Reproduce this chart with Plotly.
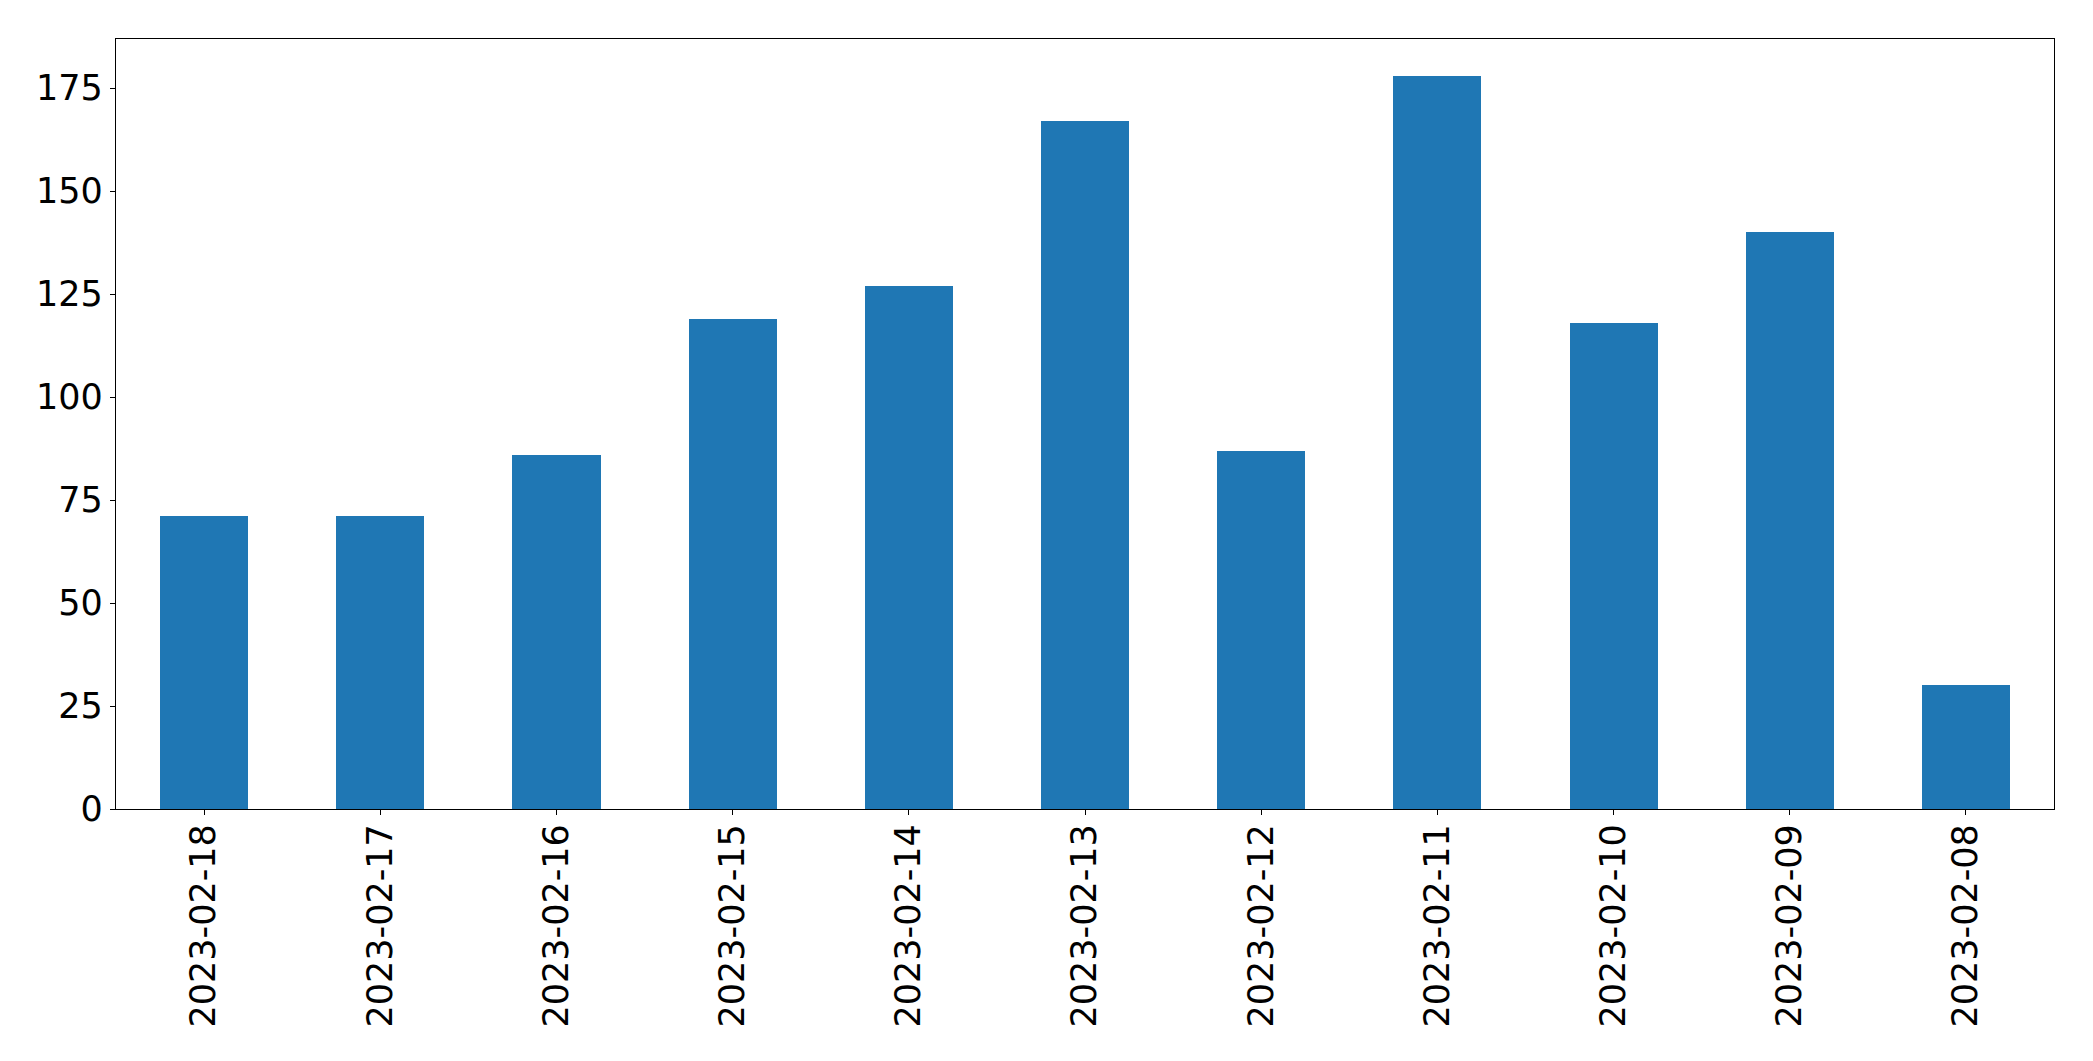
import plotly.graph_objects as go

dates = ["2023-02-18", "2023-02-17", "2023-02-16", "2023-02-15", "2023-02-14",
         "2023-02-13", "2023-02-12", "2023-02-11", "2023-02-10", "2023-02-09", "2023-02-08"]
counts = [71, 71, 86, 119, 127, 167, 87, 178, 118, 140, 30]
y_ticks = [0, 25, 50, 75, 100, 125, 150, 175]

fig = go.Figure(go.Bar(
    x=list(range(len(dates))), y=counts, width=0.5,
    marker=dict(color="#1f77b4", line=dict(width=0)),
))

fig.update_layout(
    width=2093, height=1061,
    margin=dict(l=116, r=39, t=39, b=252),
    paper_bgcolor="white", plot_bgcolor="white",
    font=dict(family="DejaVu Sans", size=35, color="black"),
    showlegend=False,
    bargap=0,
)
fig.update_xaxes(
    range=[-0.5, len(dates) - 0.5],
    tickmode="array", tickvals=list(range(len(dates))), ticktext=dates,
    tickangle=-90,
    showline=True, linecolor="black", linewidth=1.3, mirror=True,
    ticks="outside", ticklen=5, tickwidth=1.3, tickcolor="black",
    showgrid=False, zeroline=False,
    ticklabelstandoff=-5,
)
fig.update_yaxes(
    range=[0, 178 * 1.05],
    tickmode="array", tickvals=y_ticks,
    showline=True, linecolor="black", linewidth=1.3, mirror=True,
    ticks="outside", ticklen=5, tickwidth=1.3, tickcolor="black",
    showgrid=False, zeroline=False,
    ticklabelstandoff=0,
)

fig.write_html("out.html")
